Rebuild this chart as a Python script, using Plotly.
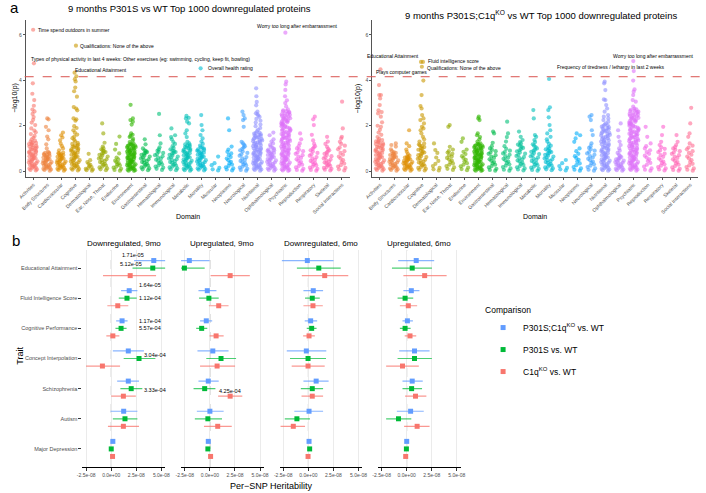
import math
import plotly.graph_objects as go

W, H = 706, 493
FONT = "Liberation Sans, Arial, sans-serif"

# ---------------- Panel a data ----------------
DOMAINS = ["Activities", "Body Structures", "Cardiovascular", "Cognitive", "Dermatological",
           "Ear, Nose, Throat", "Endocrine", "Environment", "Gastrointestinal", "Hematological",
           "Immunological", "Metabolic", "Mortality", "Muscular", "Neoplasms", "Neurological",
           "Nutritional", "Ophthalmological", "Psychiatric", "Reproduction", "Respiratory",
           "Skeletal", "Social Interactions"]

# -log10(p) x 100, one string per domain
P301S_LOGP_X100 = [
    "623 475 387 341 313 288 271 263 252 238 226 214 203 188 179 171 163 155 147 140 134 130 127 124 122 119 116 113 111 108 105 103 100 97 95 92 89 86 84 81 78 76 73 70 68 65 62 59 57 54 51 49 46 43 41 38 35 32 30 27 24 22 19 16 14 11 8 5 3",
    "232 228 195 180 152 140 118 100 85 82 80 77 75 72 70 67 65 62 60 57 55 52 50 47 45 42 40 37 35 32 30 27 25 22 20 17 15 12 10 7 5 2",
    "170 158 148 135 121 110 100 92 82 79 77 74 71 69 66 63 61 58 55 53 50 47 45 42 39 37 34 31 29 26 23 21 18 15 13 10 7 5 2",
    "553 434 418 405 395 368 352 328 282 276 268 232 228 222 198 190 180 170 161 152 145 138 131 125 120 117 114 111 108 105 102 99 96 93 90 87 84 81 78 75 72 69 66 63 60 57 54 51 48 45 42 39 36 33 30 27 24 21 18 15 12 9 6 3",
    "76 48 40 32 28 22 18 14 10 7 4 2",
    "210 166 125 108 100 96 92 88 84 80 76 72 68 64 60 56 52 48 44 40 36 32 28 24 20 16 12 8 4",
    "152 120 95 78 60 52 46 40 35 30 25 20 15 10 5 2",
    "292 232 225 218 205 166 160 155 150 142 135 128 122 120 118 116 114 112 110 108 106 104 102 100 98 96 94 92 90 88 86 84 82 80 78 76 74 72 70 68 66 64 62 60 58 56 54 52 50 48 46 44 42 40 38 36 34 32 30 28 26 24 22 20 18 16 14 12 10 8 6 4 2 1",
    "140 118 100 92 88 84 80 76 72 68 64 60 56 52 48 44 40 36 32 28 24 20 16 12 8 4",
    "252 158 122 105 96 90 85 80 75 70 65 60 55 50 45 40 35 30 25 20 15 10 5",
    "188 158 150 140 128 120 110 102 96 92 88 84 80 76 72 68 64 60 56 52 48 44 40 36 32 28 24 20 16 12 8 4",
    "243 235 232 218 210 180 166 150 129 122 118 115 112 109 106 103 100 97 94 91 88 85 82 79 76 73 70 67 64 61 58 55 52 49 46 43 40 37 34 31 28 25 22 19 16 13 10 7 4 2",
    "453 247 203 180 159 144 130 120 112 105 102 99 96 93 90 87 84 81 78 75 72 69 66 63 60 57 54 51 48 45 42 39 36 33 30 27 24 21 18 15 12 9 6 3",
    "64 35 26 14 8 3",
    "232 180 108 95 85 78 70 62 55 48 41 35 29 23 17 12 7 3",
    "262 247 232 225 195 129 122 116 110 104 98 92 86 80 74 68 62 56 50 45 40 35 30 25 20 15 10 5 2",
    "365 330 305 290 262 255 250 245 238 230 222 214 205 198 190 182 175 170 167 165 162 160 157 155 152 150 147 145 142 140 137 135 132 130 127 125 122 120 117 115 112 110 107 105 102 100 97 95 92 90 87 85 82 80 77 75 72 70 67 65 62 60 57 55 52 50 47 45 42 40 37 35 32 30 27 25 22 20 17 15 12 10 7 5 2",
    "170 158 140 130 122 115 108 102 98 95 92 89 86 83 80 77 74 71 68 65 62 59 56 53 50 47 44 41 38 35 32 29 26 23 20 17 14 11 8 5 2",
    "610 394 382 358 330 312 300 285 272 268 265 263 260 258 255 253 250 248 245 243 240 238 235 233 230 228 225 223 220 218 215 213 210 208 205 203 200 198 195 193 190 188 185 183 180 178 175 173 170 168 165 163 160 158 155 153 150 148 145 143 140 138 135 133 130 128 125 123 120 118 115 113 110 108 105 103 100 98 95 93 90 88 85 83 80 78 75 73 70 68 65 63 60 58 55 53 50 48 45 43 40 38 35 33 30 28 25 23 20 18 15 13 10 8 5 3 1",
    "166 140 122 110 100 94 88 82 76 70 64 58 52 46 40 34 28 22 16 10 5 2",
    "240 228 203 160 135 120 110 104 98 92 86 80 74 68 62 56 50 45 40 35 30 25 20 15 10 5 2",
    "151 130 120 107 98 92 86 81 76 71 66 61 56 51 46 42 38 34 30 26 22 18 14 10 6 3",
    "306 188 151 144 129 120 112 104 96 88 80 72 64 56 48 40 33 26 20 14 8 3",
]

DKO_LOGP_X100 = [
    "449 379 335 335 320 291 268 260 254 240 215 200 195 182 170 160 150 142 137 134 131 128 125 122 119 116 113 110 107 104 101 98 95 92 89 86 83 80 77 74 71 68 65 62 59 56 53 50 47 44 41 38 35 32 29 26 23 20 17 14 11 8 5 2",
    "122 115 108 96 88 84 80 77 74 71 68 65 62 59 56 53 50 47 44 41 38 35 32 29 26 23 20 17 14 11 8 5 2",
    "180 122 110 95 85 75 68 65 62 60 57 55 52 50 47 45 42 40 37 35 32 30 27 25 22 20 17 15 12 10 7 5 2",
    "481 481 460 399 335 287 276 247 232 225 210 195 188 180 166 151 140 130 122 118 114 110 106 102 98 94 90 86 82 78 74 70 66 62 58 54 50 46 42 38 34 30 26 22 18 14 10 6 3",
    "122 93 80 60 45 32 22 14 8 3",
    "203 195 107 95 88 82 76 70 64 58 52 46 40 34 28 22 16 10 5",
    "144 129 95 85 75 66 58 50 42 35 28 21 15 9 4",
    "240 232 225 166 158 150 140 130 122 120 118 116 114 112 110 108 106 104 102 100 98 96 94 92 90 88 86 84 82 80 78 76 74 72 70 68 66 64 62 60 58 56 54 52 50 48 46 44 42 40 38 36 34 32 30 28 26 24 22 20 18 16 14 12 10 8 6 4 2 1",
    "174 166 125 110 100 94 88 82 76 70 64 58 52 46 40 34 28 22 16 10 5 2",
    "218 166 150 130 110 98 90 84 78 72 66 60 54 48 42 36 30 24 18 12 6 2",
    "174 151 137 128 122 117 112 107 102 97 92 87 82 77 72 67 62 57 52 47 42 37 32 27 22 17 12 7 3",
    "269 232 159 151 137 128 118 112 106 100 95 90 85 80 75 70 65 60 55 50 45 40 35 30 25 20 15 10 5 2",
    "406 281 269 237 203 180 166 151 140 130 120 112 106 100 96 92 88 84 80 76 72 68 64 60 56 52 48 44 40 36 32 28 24 20 16 12 8 4",
    "49 35 22 14 8 3",
    "166 158 144 129 100 88 76 66 58 50 42 34 26 18 12 6 2",
    "247 240 225 180 159 122 110 102 96 90 84 78 72 66 60 54 48 42 36 30 24 18 12 6 2",
    "394 387 357 316 313 291 276 262 247 240 232 225 218 210 205 202 199 196 193 190 187 184 181 178 175 172 169 166 163 160 157 154 151 148 145 142 139 136 133 130 127 124 121 118 115 112 109 106 103 100 97 94 91 88 85 82 79 76 73 70 67 64 61 58 55 52 49 46 43 40 37 34 31 28 25 22 19 16 13 10 7 4 2",
    "210 180 151 130 115 100 90 80 72 66 62 58 55 52 49 46 43 40 37 34 31 28 25 22 19 16 13 10 7 4 2",
    "485 441 399 360 350 335 313 306 284 275 272 270 267 265 262 260 257 255 252 250 247 245 242 240 237 235 232 230 227 225 222 220 217 215 212 210 207 205 202 200 197 195 192 190 187 185 182 180 177 175 172 170 167 165 162 160 157 155 152 150 147 145 142 140 137 135 132 130 127 125 122 120 117 115 112 110 107 105 102 100 97 95 92 90 87 85 82 80 77 75 72 70 67 65 62 60 57 55 52 50 47 45 42 40 37 35 32 30 27 25 22 20 17 15 12 10 7 5 2",
    "195 151 122 110 100 92 84 76 68 60 52 44 36 28 20 12 6 2",
    "195 159 129 115 105 98 91 84 77 70 63 56 49 42 36 30 24 18 12 7 3",
    "159 129 115 106 100 94 88 82 76 70 64 58 52 46 40 34 28 22 16 10 5 2",
    "279 210 166 151 122 112 104 96 88 80 72 64 56 48 40 32 25 18 12 6 2",
]

THRESHOLD = 4.16

# labelled traits: (text, domain index, -log10 p)
P301S_LABELS = [
    ("Time spend outdoors in summer", 0, 6.23),
    ("Qualifications: None of the above", 3, 5.53),
    ("Types of physical activity in last 4 weeks: Other exercises (eg: swimming, cycling, keep fit, bowling)", 0, 4.75),
    ("Educational Attainment", 3, 4.34),
    ("Overall health rating", 12, 4.53),
    ("Worry too long after embarrassment", 18, 6.10),
]
DKO_LABELS = [
    ("Educational Attainment", 3, 4.81),
    ("Fluid intelligence score", 3, 4.81),
    ("Qualifications: None of the above", 3, 4.60),
    ("Plays computer games", 0, 4.49),
    ("Worry too long after embarrassment", 18, 4.85),
    ("Frequency of tiredness / lethargy in last 2 weeks", 18, 4.41),
]
# label placement (layout only): anchor, x shift px, y shift px
P301S_LABEL_POS = [("left", 3, 0), ("left", 3, 0), ("left", -4, 4), ("left", -2, 3), ("left", 4, 0), ("left", -31, 7)]
DKO_LABEL_POS = [("right", -1, 6), ("left", 4, 1), ("left", 3, -1), ("left", -6, -3), ("left", -23, 5), ("left", -79, 4)]

# ---------------- Panel b data (per-SNP heritability, units of 1e-08) ----------------
FACETS = ["Downregulated, 9mo", "Upregulated, 9mo", "Downregulated, 6mo", "Upregulated, 6mo"]
TRAITS = ["Educational Attainment", "Fluid Intelligence Score", "Cognitive Performance",
          "Concept Interpolation", "Schizophrenia", "Autism", "Major Depression"]
COMPARISONS = ["P301S;C1q<sup>KO</sup> vs. WT", "P301S vs. WT", "C1q<sup>KO</sup> vs. WT"]
UNIT = 1e-8

down9_dko_est = [4.24, 1.79, 1.08, 1.70, 1.70, 1.24, 0.16]
down9_dko_lo = [2.28, 0.98, 0.49, 0.16, 0.59, -0.07, 0.08]
down9_dko_hi = [6.29, 2.61, 1.63, 3.26, 2.77, 2.61, 0.24]
down9_p301s_est = [4.14, 1.57, 0.98, 2.77, 1.99, 1.37, 0.00]
down9_p301s_lo = [2.12, 0.75, 0.42, 1.24, 0.91, 0.16, -0.08]
down9_p301s_hi = [6.20, 2.54, 1.53, 4.40, 3.10, 2.61, 0.08]
down9_c1qko_est = [1.89, 0.65, 0.16, -0.88, 1.21, 1.21, 0.13]
down9_c1qko_lo = [-0.82, -0.39, -0.49, -2.51, 0.00, -0.33, 0.05]
down9_c1qko_hi = [4.47, 1.70, 0.81, 0.88, 2.45, 2.77, 0.21]

up9_dko_est = [-2.05, -0.26, -0.36, 0.29, -0.16, 0.00, -0.16]
up9_dko_lo = [-2.95, -1.14, -0.98, -1.24, -1.14, -1.30, -0.24]
up9_dko_hi = [-0.03, 0.65, 0.23, 1.86, 0.88, 1.37, -0.08]
up9_p301s_est = [-2.54, -0.10, -0.82, 1.11, -0.52, -0.20, -0.20]
up9_p301s_lo = [-2.95, -1.08, -1.37, -0.36, -1.63, -1.50, -0.28]
up9_p301s_hi = [-0.52, 0.88, -0.26, 2.61, 0.55, 1.21, -0.12]
up9_c1qko_est = [2.02, 0.88, 0.62, 0.72, 2.02, 0.78, 0.07]
up9_c1qko_lo = [0.07, -0.10, -0.03, -0.98, 0.82, -0.59, -0.01]
up9_c1qko_hi = [3.98, 1.86, 1.37, 2.51, 3.23, 2.18, 0.15]

down6_dko_est = [-0.10, 0.49, 0.23, -0.20, 0.78, 0.07, 0.07]
down6_dko_lo = [-2.64, -0.49, -0.36, -2.15, -0.49, -1.40, -0.01]
down6_dko_hi = [2.51, 1.47, 0.88, 1.79, 2.02, 1.47, 0.15]
down6_p301s_est = [1.04, 0.39, 0.33, -0.03, 0.39, -1.14, 0.13]
down6_p301s_lo = [-1.14, -0.33, -0.16, -1.83, -0.75, -2.35, 0.05]
down6_p301s_hi = [3.23, 1.14, 0.82, 1.76, 1.47, 0.16, 0.21]
down6_c1qko_est = [1.63, 0.46, 0.07, -0.03, 0.39, -1.50, -0.03]
down6_c1qko_lo = [-0.65, -0.49, -0.52, -1.66, -0.68, -2.77, -0.11]
down6_c1qko_hi = [3.98, 1.44, 0.65, 1.63, 1.47, -0.33, 0.05]

up6_dko_est = [0.95, 0.46, 0.07, 0.78, 0.55, 0.39, 0.00]
up6_dko_lo = [-0.85, -0.33, -0.42, -0.75, -0.42, -0.98, -0.08]
up6_dko_hi = [2.74, 1.27, 0.62, 2.28, 1.60, 1.70, 0.08]
up6_p301s_est = [0.55, -0.16, -0.16, 0.78, 0.49, -0.82, -0.03]
up6_p301s_lo = [-1.47, -0.91, -0.68, -0.91, -0.42, -2.05, -0.11]
up6_p301s_hi = [2.51, 0.65, 0.39, 2.51, 1.53, 0.46, 0.05]
up6_c1qko_est = [1.79, 0.16, 0.33, -0.42, 0.88, 1.04, -0.10]
up6_c1qko_lo = [-0.33, -0.68, -0.20, -2.05, -0.16, -0.26, -0.18]
up6_c1qko_hi = [3.98, 1.04, 0.95, 1.21, 1.96, 2.28, -0.02]

# p-value labels: (facet index, text, x in 1e-08, y row position)
PVAL_LABELS = [
    (0, "1.71e-05", 2.12, 6.43), (0, "5.12e-05", 2.00, 6.12),
    (0, "1.64e-05", 3.82, 5.43), (0, "1.12e-04", 3.82, 5.00),
    (0, "1.17e-04", 3.90, 4.25), (0, "5.57e-04", 3.90, 4.00),
    (0, "3.04e-04", 4.35, 3.12), (0, "3.33e-04", 4.40, 1.97),
    (1, "4.25e-04", 1.98, 1.93),
]

X_TICKS = [-2.5e-8, 0, 2.5e-8, 5e-8]
X_TICKTEXT = ["-2.5e-08", "0.0e+00", "2.5e-08", "5.0e-08"]

# ---------------- helpers ----------------
def hcl_hex(h, c=100, l=65):
    hr = math.radians(h)
    u, v = c * math.cos(hr), c * math.sin(hr)
    Xn, Yn, Zn = 95.047, 100.0, 108.883
    Y = Yn * ((l + 16) / 116) ** 3 if l > 8 else Yn * l / 903.3
    den = Xn + 15 * Yn + 3 * Zn
    un, vn = 4 * Xn / den, 9 * Yn / den
    up, vp = u / (13 * l) + un, v / (13 * l) + vn
    X = Y * 9 * up / (4 * vp)
    Z = Y * (12 - 3 * up - 20 * vp) / (4 * vp)
    X, Y, Z = X / 100, Y / 100, Z / 100
    rgb = [3.2404542 * X - 1.5371385 * Y - 0.4985314 * Z,
           -0.9692660 * X + 1.8760108 * Y + 0.0415560 * Z,
           0.0556434 * X - 0.2040259 * Y + 1.0572252 * Z]
    out = []
    for ch in rgb:
        ch = 12.92 * ch if ch <= 0.0031308 else 1.055 * ch ** (1 / 2.4) - 0.055
        out.append(int(round(max(0, min(1, ch)) * 255)))
    return "#%02X%02X%02X" % tuple(out)


def px_x(p):
    return p / W


def px_y(p):
    return 1 - p / H


n_dom = len(DOMAINS)
DOM_COLORS = [hcl_hex(15 + 360 * i / n_dom) for i in range(n_dom)]
CMP_COLORS = ["#619CFF", "#00BA38", "#F8766D"]
CMP_ERR = ["rgba(97,156,255,0.75)", "rgba(0,186,56,0.7)", "rgba(248,118,109,0.75)"]
DODGE = [0.25, 0.0, -0.25]

fig = go.Figure()

# ---------------- Panel a: jittered domain strips ----------------
for axn, data in (("", P301S_LOGP_X100), ("2", DKO_LOGP_X100)):
    for i, d in enumerate(DOMAINS):
        vals = [int(s) / 100 for s in data[i].split()]
        fig.add_trace(go.Box(
            x=[d] * len(vals), y=vals, xaxis="x" + axn, yaxis="y" + axn,
            boxpoints="all", jitter=1, pointpos=0,
            marker=dict(color=DOM_COLORS[i], size=4.2, opacity=0.6),
            line=dict(width=0, color="rgba(0,0,0,0)"), fillcolor="rgba(0,0,0,0)",
            showlegend=False, hoverinfo="skip"))

# ---------------- Panel b: forest plots ----------------
facet_series = [
    [(down9_dko_est, down9_dko_lo, down9_dko_hi), (down9_p301s_est, down9_p301s_lo, down9_p301s_hi), (down9_c1qko_est, down9_c1qko_lo, down9_c1qko_hi)],
    [(up9_dko_est, up9_dko_lo, up9_dko_hi), (up9_p301s_est, up9_p301s_lo, up9_p301s_hi), (up9_c1qko_est, up9_c1qko_lo, up9_c1qko_hi)],
    [(down6_dko_est, down6_dko_lo, down6_dko_hi), (down6_p301s_est, down6_p301s_lo, down6_p301s_hi), (down6_c1qko_est, down6_c1qko_lo, down6_c1qko_hi)],
    [(up6_dko_est, up6_dko_lo, up6_dko_hi), (up6_p301s_est, up6_p301s_lo, up6_p301s_hi), (up6_c1qko_est, up6_c1qko_lo, up6_c1qko_hi)],
]
n_tr = len(TRAITS)
for f, series in enumerate(facet_series):
    axn = str(f + 3)
    for c, (est, lo, hi) in enumerate(series):
        xs = [e * UNIT for e in est]
        ys = [(n_tr - 1 - t) + DODGE[c] for t in range(n_tr)]
        fig.add_trace(go.Scatter(
            x=xs, y=ys, xaxis="x" + axn, yaxis="y" + axn, mode="markers",
            name=COMPARISONS[c], legendgroup=COMPARISONS[c], showlegend=(f == 0),
            marker=dict(color=CMP_COLORS[c], size=5, symbol="square"),
            error_x=dict(type="data", symmetric=False,
                         array=[(h - e) * UNIT for h, e in zip(hi, est)],
                         arrayminus=[(e - l) * UNIT for e, l in zip(est, lo)],
                         color=CMP_ERR[c], thickness=1.2, width=0),
            cliponaxis=False, hoverinfo="skip"))

# ---------------- layout ----------------
axis_txt = "#4D4D4D"
man_y = [px_y(177), px_y(20)]
layout = dict(
    width=W, height=H, margin=dict(l=0, r=0, t=0, b=0),
    paper_bgcolor="white", plot_bgcolor="white",
    font=dict(family=FONT, color="black"),
    boxmode="overlay", boxgap=0.04,
    legend=dict(x=px_x(484), y=px_y(302), xanchor="left", yanchor="top",
                font=dict(size=8.5, family=FONT), tracegroupgap=3,
                title=dict(text="Comparison", font=dict(size=8.5, family=FONT)),
                bgcolor="rgba(0,0,0,0)"),
)

for axn, dom in (("", [px_x(18), px_x(348)]), ("2", [px_x(371), px_x(703)])):
    layout["xaxis" + axn] = dict(
        domain=dom, anchor="y" + axn, type="category", categoryorder="array",
        categoryarray=DOMAINS, range=[-0.55, n_dom - 0.45], tickangle=-45,
        tickfont=dict(size=5, color=axis_txt), showline=True, linecolor="#555",
        linewidth=1, ticks="outside", ticklen=2, tickcolor="#555",
        showgrid=False, zeroline=False, fixedrange=True)
    layout["yaxis" + axn] = dict(
        domain=man_y, anchor="x" + axn, range=[-0.26, 6.66], tickvals=[0, 2, 4, 6],
        tickfont=dict(size=5, color=axis_txt), showline=True, linecolor="#555",
        linewidth=1, ticks="outside", ticklen=2, tickcolor="#555",
        showgrid=False, zeroline=False)

facet_left = [75.8, 176.3, 276.6, 376.8]
facet_w = 84.3
for f in range(4):
    axn = str(f + 3)
    layout["xaxis" + axn] = dict(
        domain=[px_x(facet_left[f]), px_x(facet_left[f] + facet_w)], anchor="y" + axn,
        range=[-2.875e-8, 5.375e-8], tickvals=X_TICKS, ticktext=X_TICKTEXT,
        tickfont=dict(size=5, color=axis_txt), showline=True, linecolor="black",
        linewidth=1, ticks="outside", ticklen=2.5, tickcolor="#333",
        showgrid=True, gridcolor="#EBEBEB", gridwidth=0.8, zeroline=False)
    layout["yaxis" + axn] = dict(
        domain=[px_y(467), px_y(250)], anchor="x" + axn, range=[-0.6, 6.6],
        tickvals=list(range(n_tr)), ticktext=list(reversed(TRAITS)),
        showticklabels=(f == 0), ticks="outside" if f == 0 else "", ticklen=3,
        tickcolor="#333", tickfont=dict(size=5.5, color=axis_txt),
        showline=False, showgrid=False, zeroline=False)

fig.update_layout(**layout)

shapes = [dict(type="line", xref="paper", yref="y", x0=px_x(17), x1=1.0,
               y0=THRESHOLD, y1=THRESHOLD, line=dict(color="#D9534F", width=1, dash="dash"))]
for f in range(4):
    axn = str(f + 3)
    shapes.append(dict(type="line", xref="x" + axn, yref="y" + axn + " domain", x0=0, x1=0,
                       y0=0, y1=1, line=dict(color="#B5B5B5", width=1, dash="dash"), layer="below"))
fig.update_layout(shapes=shapes)

ann = []
def txt(x, y, s, size, **kw):
    d = dict(x=px_x(x), y=px_y(y), xref="paper", yref="paper", text=s, showarrow=False,
             font=dict(size=size, family=FONT, color=kw.pop("color", "black")),
             xanchor=kw.pop("xanchor", "center"), yanchor=kw.pop("yanchor", "middle"))
    d.update(kw)
    ann.append(d)

txt(7, 7, "a", 15)
txt(8, 240, "b", 15)
txt(185, 8, "9 months P301S vs WT Top 1000 downregulated proteins", 9.5)
txt(544, 15, "9 months P301S;C1q<sup>KO</sup> vs WT Top 1000 downregulated proteins", 9.5)
txt(7, 98, "\u2212log10(p)", 7, textangle=-90)
txt(357, 98, "\u2212log10(p)", 7, textangle=-90)
txt(183, 217, "Domain", 7)
txt(537, 217, "Domain", 7)
for f in range(4):
    txt(facet_left[f] + facet_w / 2, 243, FACETS[f], 8)
txt(12, 356, "Trait", 9, textangle=-90)
txt(268, 486, "Per\u2212SNP Heritability", 9)

for axn, labels, pos in (("", P301S_LABELS, P301S_LABEL_POS), ("2", DKO_LABELS, DKO_LABEL_POS)):
    for (s, di, val), (anc, dx, dy) in zip(labels, pos):
        ann.append(dict(x=di, y=val, xref="x" + axn, yref="y" + axn, text=s, showarrow=False,
                        xanchor=anc, yanchor="middle", xshift=dx, yshift=dy,
                        font=dict(size=5, family=FONT, color="black")))

for f, s, xv, yv in PVAL_LABELS:
    axn = str(f + 3)
    ann.append(dict(x=xv * UNIT, y=yv, xref="x" + axn, yref="y" + axn, text=s, showarrow=False,
                    xanchor="center", yanchor="middle", font=dict(size=5.5, family=FONT, color="black")))

fig.update_layout(annotations=ann)
fig.write_html("out.html", config={"displayModeBar": False},
               post_script="document.body.style.margin='0px';")
